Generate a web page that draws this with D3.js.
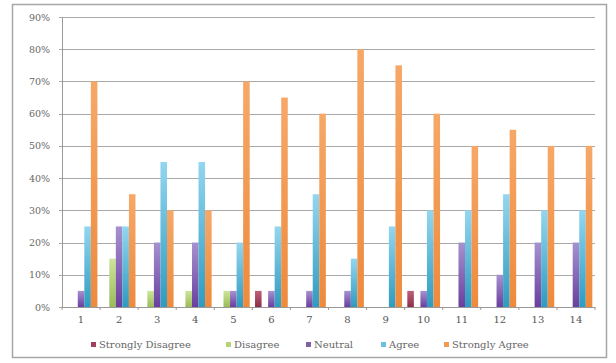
<!DOCTYPE html>
<html>
<head>
<meta charset="utf-8">
<script src="https://cdn.jsdelivr.net/npm/d3@7"></script>
<style>
  html, body { margin: 0; padding: 0; background: #fff; }
  svg { display: block; }
</style>
</head>
<body>
<svg id="chart" width="616" height="363"></svg>
<script>
// Survey items (1-14) and response share per category
const categories = ["1","2","3","4","5","6","7","8","9","10","11","12","13","14"];
const seriesNames = ["Strongly Disagree","Disagree","Neutral","Agree","Strongly Agree"];
const stronglyDisagree = [0, 0, 0, 0, 0, 0.05, 0, 0, 0, 0.05, 0, 0, 0, 0];
const disagree         = [0, 0.15, 0.05, 0.05, 0.05, 0, 0, 0, 0, 0, 0, 0, 0, 0];
const neutral          = [0.05, 0.25, 0.20, 0.20, 0.05, 0.05, 0.05, 0.05, 0, 0.05, 0.20, 0.10, 0.20, 0.20];
const agree            = [0.25, 0.25, 0.45, 0.45, 0.20, 0.25, 0.35, 0.15, 0.25, 0.30, 0.30, 0.35, 0.30, 0.30];
const stronglyAgree    = [0.70, 0.35, 0.30, 0.30, 0.70, 0.65, 0.60, 0.80, 0.75, 0.60, 0.50, 0.55, 0.50, 0.50];
const yTicks = [0, 0.1, 0.2, 0.3, 0.4, 0.5, 0.6, 0.7, 0.8, 0.9];

const seriesValues = [stronglyDisagree, disagree, neutral, agree, stronglyAgree];
// gradient stops (top, bottom) per series
const seriesColors = [
  ["#c0607a", "#8a2f48"],
  ["#cde59a", "#9bbb59"],
  ["#a692cf", "#6a3f9e"],
  ["#93d6f0", "#2f9bc0"],
  ["#f6a868", "#ee8a3c"]
];
const legendColors = ["#a0405a", "#b5d47a", "#7e62a8", "#6ec0e0", "#f39a52"];

const svg = d3.select("#chart");
const W = 616, H = 363;
const margin = { left: 62, right: 21, top: 17, bottom: 56 };
const fontFam = "'DejaVu Serif', 'Liberation Serif', serif";

// outer frame
svg.append("rect")
  .attr("x", 12.5).attr("y", 4.5)
  .attr("width", 594).attr("height", 353)
  .attr("fill", "#fff").attr("stroke", "#a6a6a6").attr("stroke-width", 1.5);

const defs = svg.append("defs");
seriesColors.forEach((c, i) => {
  const g = defs.append("linearGradient")
    .attr("id", "grad" + i)
    .attr("x1", 0).attr("y1", 0).attr("x2", 0).attr("y2", 1);
  g.append("stop").attr("offset", "0%").attr("stop-color", c[0]);
  g.append("stop").attr("offset", "100%").attr("stop-color", c[1]);
});

const x0 = d3.scaleBand()
  .domain(categories)
  .range([margin.left, W - margin.right])
  .paddingInner(0.14)
  .paddingOuter(0.07);

const x1 = d3.scaleBand()
  .domain(d3.range(seriesNames.length))
  .range([0, x0.bandwidth()]);

const y = d3.scaleLinear()
  .domain([0, 0.9])
  .range([H - margin.bottom, margin.top]);

// horizontal gridlines
svg.append("g")
  .selectAll("line")
  .data(yTicks)
  .join("line")
  .attr("x1", margin.left - 3)
  .attr("x2", W - margin.right)
  .attr("y1", d => Math.round(y(d)) + 0.5)
  .attr("y2", d => Math.round(y(d)) + 0.5)
  .attr("stroke", "#a9a9a9")
  .attr("stroke-width", 1);

// y axis
const yAxis = d3.axisLeft(y)
  .tickValues(yTicks)
  .tickFormat(d3.format(".0%"))
  .tickSize(0)
  .tickPadding(12);
const yg = svg.append("g")
  .attr("transform", `translate(${margin.left},0)`)
  .call(yAxis);
yg.select(".domain").attr("stroke", "#999").attr("stroke-width", 1);
yg.selectAll("text")
  .attr("font-family", fontFam)
  .attr("font-size", 9.5)
  .attr("fill", "#666");

// bars
const groups = svg.append("g")
  .selectAll("g")
  .data(categories)
  .join("g")
  .attr("transform", d => `translate(${x0(d)},0)`);

groups.selectAll("rect")
  .data((d, ci) => seriesValues.map((vals, si) => ({ si, v: vals[ci] })))
  .join("rect")
  .filter(d => d.v > 0)
  .attr("x", d => x1(d.si))
  .attr("width", x1.bandwidth())
  .attr("y", d => y(d.v))
  .attr("height", d => y(0) - y(d.v))
  .attr("fill", d => `url(#grad${d.si})`);

// category axis
const xAxis = d3.axisBottom(x0).tickSize(0).tickPadding(9);
const xg = svg.append("g")
  .attr("transform", `translate(0,${y(0)})`)
  .call(xAxis);
xg.select(".domain").attr("stroke", "#999").attr("stroke-width", 1);
xg.selectAll("text")
  .attr("font-family", fontFam)
  .attr("font-size", 10)
  .attr("fill", "#555");

// small tick marks between categories
xg.selectAll(".sep")
  .data(d3.range(categories.length + 1))
  .join("line")
  .attr("class", "sep")
  .attr("x1", i => margin.left + i * (W - margin.right - margin.left) / categories.length)
  .attr("x2", i => margin.left + i * (W - margin.right - margin.left) / categories.length)
  .attr("y1", 0).attr("y2", 3)
  .attr("stroke", "#999");

// legend
const legendX = [91, 226, 306, 381, 444];
const legend = svg.append("g");
seriesNames.forEach((name, i) => {
  const g = legend.append("g").attr("transform", `translate(${legendX[i]},345)`);
  g.append("rect")
    .attr("x", 0).attr("y", -3)
    .attr("width", 5).attr("height", 5)
    .attr("fill", legendColors[i]);
  g.append("text")
    .attr("x", 8).attr("y", 0)
    .attr("dy", "0.32em")
    .attr("font-family", fontFam)
    .attr("font-size", 10)
    .attr("fill", "#666")
    .text(name);
});
</script>
</body>
</html>
